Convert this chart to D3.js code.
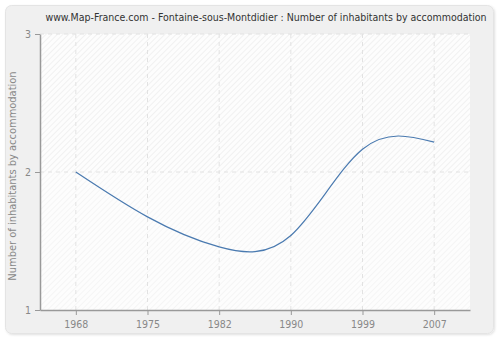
<!DOCTYPE html>
<html>
<head>
<meta charset="utf-8">
<script src="https://cdn.jsdelivr.net/npm/d3@7/dist/d3.min.js"></script>
<style>
  body { margin: 0; background: #fff; }
  svg { display: block; font-family: "DejaVu Sans Condensed", "DejaVu Sans", Verdana, sans-serif; }
</style>
</head>
<body>
<svg id="chart" width="500" height="340"></svg>
<script>
// Data
const years = ['1968', '1975', '1982', '1990', '1999', '2007'];
const values = [2.0, 1.675, 1.457, 1.54, 2.165, 2.216];
const yTicks = [1, 2, 3];

const svg = d3.select('#chart');
const W = 500, H = 340;
const margin = { left: 40, right: 30, top: 34, bottom: 30 };
const plotW = W - margin.left - margin.right;
const plotH = H - margin.top - margin.bottom;
const font = '"DejaVu Sans Condensed", "DejaVu Sans", Verdana, sans-serif';

// Hatch patterns
const defs = svg.append('defs');
function hatch(id, bg, line) {
    const p = defs.append('pattern')
        .attr('id', id)
        .attr('width', 4).attr('height', 4)
        .attr('patternUnits', 'userSpaceOnUse')
        .attr('patternTransform', 'rotate(45)');
    p.append('rect').attr('width', 4).attr('height', 4).attr('fill', bg);
    p.append('line').attr('x1', 0).attr('y1', 0).attr('x2', 0).attr('y2', 4)
        .attr('stroke', line).attr('stroke-width', 1.2);
}
hatch('hatchTop', '#fdfdfd', '#e9e9e9');
hatch('hatchBottom', '#fdfdfd', '#f1f1f1');

// Outer panel
defs.append('filter').attr('id', 'shadow')
    .append('feDropShadow')
    .attr('dx', 1).attr('dy', 1).attr('stdDeviation', 1)
    .attr('flood-color', '#000').attr('flood-opacity', 0.12);

svg.append('rect')
    .attr('x', 5.5).attr('y', 5.5)
    .attr('width', 488).attr('height', 328)
    .attr('rx', 6)
    .attr('fill', '#f0f0f0')
    .attr('stroke', '#e4e4e4')
    .attr('filter', 'url(#shadow)');

// Title
svg.append('text')
    .attr('x', 266).attr('y', 21)
    .attr('text-anchor', 'middle')
    .attr('font-size', '10.5px')
    .attr('fill', '#333')
    .text('www.Map-France.com - Fontaine-sous-Montdidier : Number of inhabitants by accommodation');

const g = svg.append('g')
    .attr('transform', `translate(${margin.left},${margin.top})`);

const x = d3.scalePoint().domain(years).range([0, plotW]).padding(0.5);
const y = d3.scaleLinear().domain([1, 3]).range([plotH, 0]);

// Plot background
g.append('rect')
    .attr('width', plotW).attr('height', y(2))
    .attr('fill', 'url(#hatchTop)');
g.append('rect')
    .attr('y', y(2)).attr('width', plotW).attr('height', plotH - y(2))
    .attr('fill', 'url(#hatchBottom)');

// Grid
g.append('g').selectAll('line')
    .data(years)
    .join('line')
    .attr('x1', d => x(d)).attr('x2', d => x(d))
    .attr('y1', 0).attr('y2', plotH)
    .attr('stroke', '#e2e2e2')
    .attr('stroke-dasharray', '4,4');
g.append('g').selectAll('line')
    .data(yTicks.slice(1))
    .join('line')
    .attr('x1', 0).attr('x2', plotW)
    .attr('y1', d => y(d)).attr('y2', d => y(d))
    .attr('stroke', '#e2e2e2')
    .attr('stroke-dasharray', '4,4');

// Axes
const xAxis = g.append('g')
    .attr('transform', `translate(0,${plotH})`)
    .call(d3.axisBottom(x).tickSize(5).tickSizeOuter(0).tickPadding(6));
const yAxis = g.append('g')
    .call(d3.axisLeft(y).tickValues(yTicks).tickFormat(d3.format('d')).tickSize(5).tickSizeOuter(0).tickPadding(4));

[xAxis, yAxis].forEach(a => {
    a.select('.domain').attr('stroke', '#999').attr('stroke-width', 1.5);
    a.selectAll('.tick line').attr('stroke', '#999');
    a.selectAll('.tick text').attr('fill', '#888').attr('font-size', '10.5px')
        .attr('font-family', font);
});

// Y axis label
svg.append('text')
    .attr('transform', `translate(16,${margin.top + plotH / 2 + 4}) rotate(-90)`)
    .attr('text-anchor', 'middle')
    .attr('font-size', '11px')
    .attr('fill', '#888')
    .text('Number of inhabitants by accommodation');

// Line
const line = d3.line()
    .x((d, i) => x(years[i]))
    .y(d => y(d))
    .curve(d3.curveNatural);

g.append('path')
    .datum(values)
    .attr('d', line)
    .attr('fill', 'none')
    .attr('stroke', '#4a7ab0')
    .attr('stroke-width', 1.2);
</script>
</body>
</html>
